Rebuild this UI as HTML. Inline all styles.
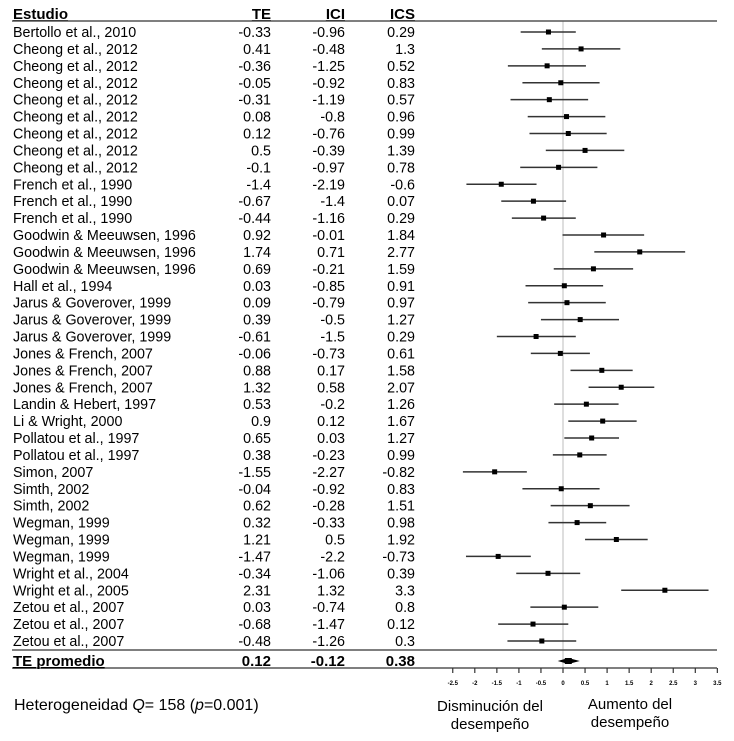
<!DOCTYPE html>
<html><head><meta charset="utf-8"><style>
body{margin:0;background:#fff}
svg{display:block;font-family:"Liberation Sans",Arial,sans-serif}
</style></head><body>
<svg id="c" width="734" height="741" viewBox="0 0 734 741"></svg>
<script>
const studies=["Bertollo et al., 2010","Cheong et al., 2012","Cheong et al., 2012","Cheong et al., 2012","Cheong et al., 2012","Cheong et al., 2012","Cheong et al., 2012","Cheong et al., 2012","Cheong et al., 2012","French et al., 1990","French et al., 1990","French et al., 1990","Goodwin & Meeuwsen, 1996","Goodwin & Meeuwsen, 1996","Goodwin & Meeuwsen, 1996","Hall et al., 1994","Jarus & Goverover, 1999","Jarus & Goverover, 1999","Jarus & Goverover, 1999","Jones & French, 2007","Jones & French, 2007","Jones & French, 2007","Landin & Hebert, 1997","Li & Wright, 2000","Pollatou et al., 1997","Pollatou et al., 1997","Simon, 2007","Simth, 2002","Simth, 2002","Wegman, 1999","Wegman, 1999","Wegman, 1999","Wright et al., 2004","Wright et al., 2005","Zetou et al., 2007","Zetou et al., 2007","Zetou et al., 2007"];
const te=[-0.33,0.41,-0.36,-0.05,-0.31,0.08,0.12,0.5,-0.1,-1.4,-0.67,-0.44,0.92,1.74,0.69,0.03,0.09,0.39,-0.61,-0.06,0.88,1.32,0.53,0.9,0.65,0.38,-1.55,-0.04,0.62,0.32,1.21,-1.47,-0.34,2.31,0.03,-0.68,-0.48];
const ici=[-0.96,-0.48,-1.25,-0.92,-1.19,-0.8,-0.76,-0.39,-0.97,-2.19,-1.4,-1.16,-0.01,0.71,-0.21,-0.85,-0.79,-0.5,-1.5,-0.73,0.17,0.58,-0.2,0.12,0.03,-0.23,-2.27,-0.92,-0.28,-0.33,0.5,-2.2,-1.06,1.32,-0.74,-1.47,-1.26];
const ics=[0.29,1.3,0.52,0.83,0.57,0.96,0.99,1.39,0.78,-0.6,0.07,0.29,1.84,2.77,1.59,0.91,0.97,1.27,0.29,0.61,1.58,2.07,1.26,1.67,1.27,0.99,-0.82,0.83,1.51,0.98,1.92,-0.73,0.39,3.3,0.8,0.12,0.3];
const pooled=[0.12,-0.12,0.38];
const ticks=[-2.5,-2,-1.5,-1,-0.5,0,0.5,1,1.5,2,2.5,3,3.5];
const svg=document.getElementById('c');
const NS='http://www.w3.org/2000/svg';
const X=v=>563+v*44.1;
const Y=i=>32+i*(641-32)/(studies.length-1);
function mk(t,a,txt){const e=document.createElementNS(NS,t);for(const k in a)e.setAttribute(k,a[k]);if(txt!==undefined)e.textContent=txt;svg.appendChild(e);return e;}
let e=mk('line',{x1:X(0),x2:X(0),y1:21,y2:668,stroke:'#d4d4d4','stroke-width':1.5});


const hdr=[["Estudio",13,'start'],["TE",271,'end'],["ICI",345,'end'],["ICS",415,'end']];
hdr.forEach(h=>{e=mk('text',{x:h[1],y:19,'font-size':15,'font-weight':'bold','text-anchor':h[2],'text-decoration':'underline'},h[0]);

});
[21,650,668].forEach(y=>{e=mk('line',{x1:12,x2:717,y1:y,y2:y,stroke:'#555','stroke-width':1.5});

});
studies.forEach((s,i)=>{
 const y=Y(i);
 e=mk('text',{x:13,y:y+5,'font-size':14.3},s);
 
 
 [[te[i],271],[ici[i],345],[ics[i],415]].forEach(v=>{e=mk('text',{x:v[1],y:y+5,'font-size':14.3,'text-anchor':'end'},String(v[0]));
 
 });
 e=mk('line',{x1:X(ici[i]),x2:X(ics[i]),y1:y,y2:y,stroke:'#333','stroke-width':1.5});
 
 
 e=mk('rect',{x:X(te[i])-2.5,y:y-2.5,width:5,height:5,fill:'#000'});
 
 
});
const py=661;
e=mk('text',{x:13,y:py+5,'font-size':15,'font-weight':'bold','text-decoration':'underline'},"TE promedio");


[[pooled[0],271],[pooled[1],345],[pooled[2],415]].forEach(v=>{e=mk('text',{x:v[1],y:py+5,'font-size':15,'font-weight':'bold','text-anchor':'end'},v[0].toFixed(2));

});
e=mk('polygon',{points:`${X(pooled[1])},${py} ${X(pooled[0])},${py-3} ${X(pooled[2])},${py} ${X(pooled[0])},${py+3}`,fill:'#000'});


e=mk('rect',{x:X(pooled[0])-3.5,y:py-3,width:7,height:6,fill:'#000'});


ticks.forEach(t=>{e=mk('line',{x1:X(t),x2:X(t),y1:668,y2:673,stroke:'#333','stroke-width':1.2});


e=mk('text',{x:X(t),y:685,'font-size':6,'text-anchor':'middle','font-weight':'bold'},String(t));

});
</script>
<div style="position:absolute;left:14px;top:697px;font:16px 'Liberation Sans',Arial,sans-serif">Heterogeneidad <i>Q</i>= 158 (<i>p</i>=0.001)</div>
<div style="position:absolute;left:415px;width:150px;top:698px;text-align:center;font:15px/18px 'Liberation Sans',Arial,sans-serif">Disminución del<br>desempeño</div>
<div style="position:absolute;left:560px;width:140px;top:696px;text-align:center;font:15px/18px 'Liberation Sans',Arial,sans-serif">Aumento del<br>desempeño</div>
</body></html>
